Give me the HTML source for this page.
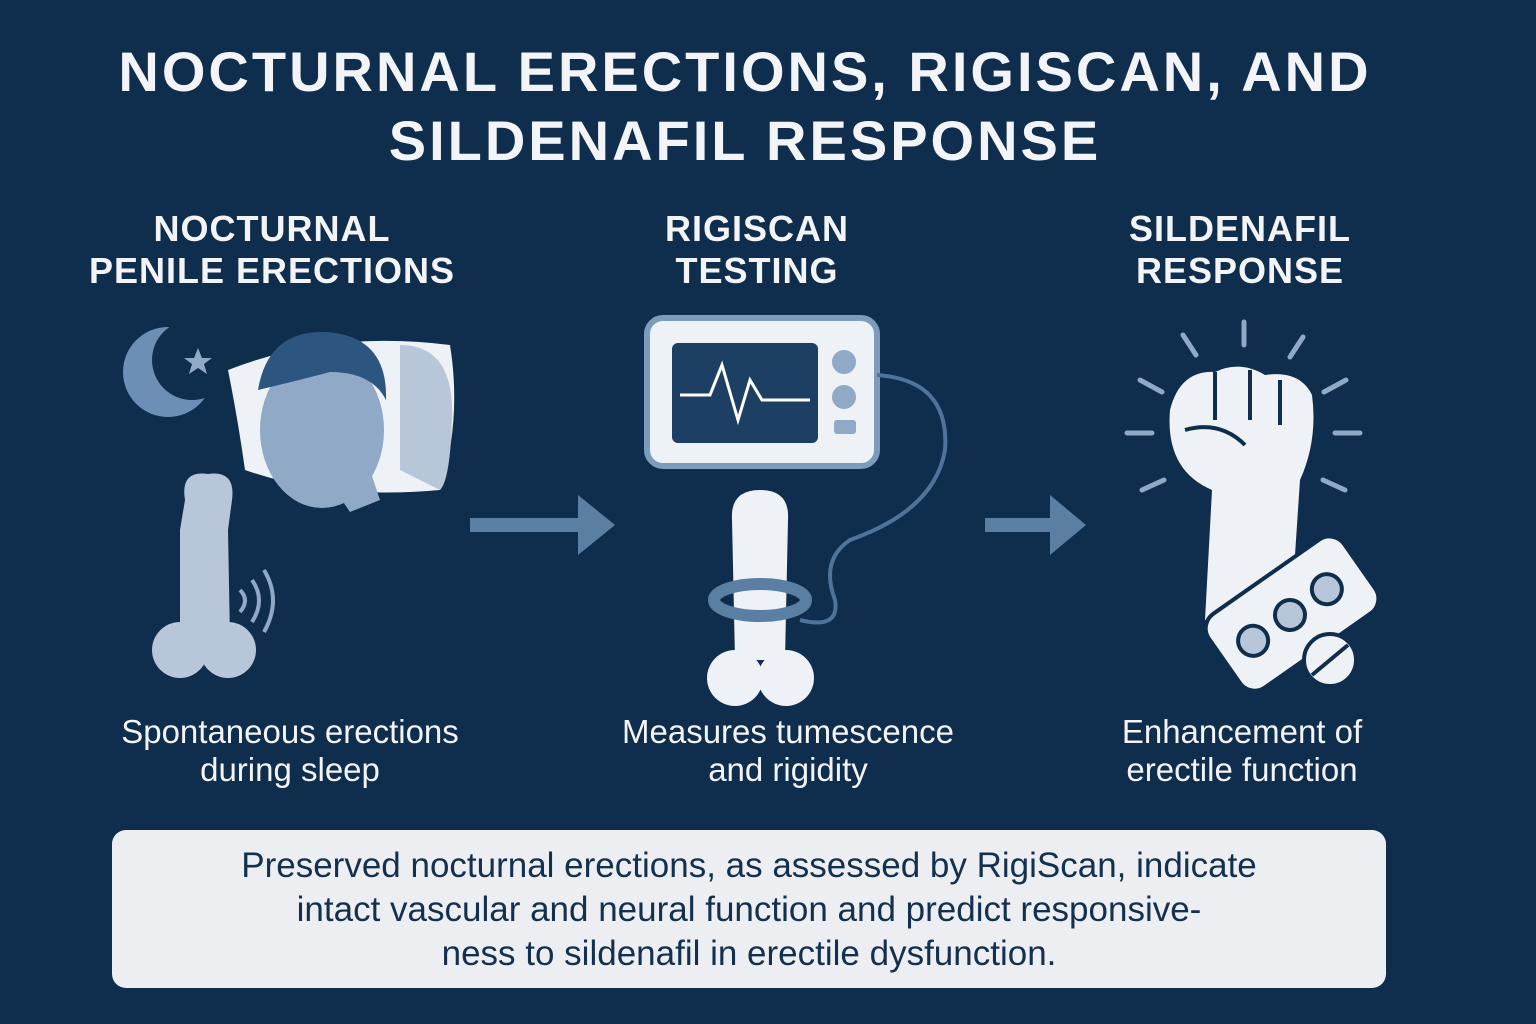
<!DOCTYPE html>
<html><head><meta charset="utf-8"><style>
body{margin:0;width:1536px;height:1024px;background:#0f2d4c;overflow:hidden;font-family:"Liberation Sans","DejaVu Sans",sans-serif;position:relative;color:#f2f4f7}
.t{position:absolute;left:0;width:1490px;text-align:center;font-weight:bold;font-size:56px;letter-spacing:3px;line-height:70px}
.h{position:absolute;text-align:center;font-weight:bold;font-size:36px;line-height:42px;letter-spacing:1px;width:440px}
.c{position:absolute;text-align:center;font-size:33px;line-height:38px;width:460px}
.box{position:absolute;left:112px;top:830px;width:1274px;height:158px;background:#eceef2;border-radius:14px;color:#14304f;font-size:35px;line-height:44px;text-align:center;box-sizing:border-box;padding-top:14px}
</style></head><body>
<div class="t" style="top:37px">NOCTURNAL ERECTIONS, RIGISCAN, AND</div>
<div class="t" style="top:106px">SILDENAFIL RESPONSE</div>
<div class="h" style="left:52px;top:208px">NOCTURNAL<br>PENILE ERECTIONS</div>
<div class="h" style="left:537px;top:208px">RIGISCAN<br>TESTING</div>
<div class="h" style="left:1020px;top:208px">SILDENAFIL<br>RESPONSE</div>
<svg width="1536" height="1024" style="position:absolute;left:0;top:0">
<circle cx="168" cy="372" r="45" fill="#6d8fb5"/><circle cx="192" cy="360" r="40" fill="#0f2d4c"/>
<polygon points="198,348 202,358 212,358 204,364 207,374 198,368 189,374 192,364 184,358 194,358" fill="#8fa9c6"/>
<path d="M228 370 Q330 330 450 345 Q462 420 440 490 Q330 500 245 470 Q238 420 228 370Z" fill="#eef1f5"/>
<path d="M400 345 Q455 345 452 420 Q450 480 440 490 L400 470Z" fill="#b7c7d9"/>
<ellipse cx="322" cy="430" rx="62" ry="78" fill="#8fa9c6"/>
<path d="M258 390 Q268 330 326 332 Q388 336 386 400 Q372 372 330 372 Q300 380 258 390Z" fill="#2c5680"/>
<path d="M335 490 L350 512 L380 500 L370 470Z" fill="#8fa9c6"/>
<path d="M185 500 Q180 470 208 474 Q236 470 232 500 L228 530 L230 640 L180 640 L180 530Z" fill="#b7c7d9"/>
<circle cx="180" cy="650" r="28" fill="#b7c7d9"/><circle cx="228" cy="650" r="28" fill="#b7c7d9"/>
<path d="M240 590 Q250 600 240 612 M252 580 Q266 600 252 622 M264 570 Q282 600 264 632" stroke="#8fa9c6" stroke-width="4" fill="none"/>
<path d="M470 525 H585" stroke="#5b7fa3" stroke-width="14"/><polygon points="578,495 615,525 578,555" fill="#5b7fa3"/>
<path d="M985 525 H1055" stroke="#5b7fa3" stroke-width="14"/><polygon points="1050,495 1086,525 1050,555" fill="#5b7fa3"/>
<rect x="647" y="318" width="230" height="148" rx="16" fill="#eef1f5" stroke="#7c9bbd" stroke-width="6"/>
<rect x="672" y="343" width="146" height="100" rx="6" fill="#1d3f63"/>
<path d="M680 395 H710 L722 365 L738 420 L750 380 L762 400 H810" stroke="#fff" stroke-width="3" fill="none"/>
<circle cx="844" cy="362" r="12" fill="#8fa9c6"/><circle cx="844" cy="397" r="12" fill="#8fa9c6"/><rect x="834" y="420" width="22" height="14" rx="3" fill="#8fa9c6"/>
<path d="M877 375 Q950 380 945 450 Q935 510 850 540 Q820 560 835 600 Q840 630 800 620" stroke="#4f7399" stroke-width="4" fill="none"/>
<path d="M732 520 Q730 490 760 490 Q790 490 788 520 L785 660 L735 660Z" fill="#eef1f5"/>
<circle cx="735" cy="678" r="28" fill="#eef1f5"/><circle cx="786" cy="678" r="28" fill="#eef1f5"/>
<ellipse cx="760" cy="600" rx="46" ry="16" fill="none" stroke="#5b7fa3" stroke-width="12"/>
<g stroke="#8fa9c6" stroke-width="5" stroke-linecap="round">
<path d="M1244 322V345M1183 335L1196 355M1303 337L1290 357M1140 380L1162 392M1346 380L1324 392M1127 433H1152M1335 433H1360M1142 490L1164 480M1345 490L1323 480"/></g>
<path d="M1170 410 Q1180 370 1215 372 Q1240 360 1265 375 Q1300 370 1312 395 Q1318 440 1300 480 L1292 600 L1205 620 L1212 490 Q1165 470 1170 410Z" fill="#eef1f5"/>
<path d="M1215 372 L1215 420 M1250 370 L1250 420 M1280 380 L1280 425 M1185 430 Q1220 420 1245 445" stroke="#0f2d4c" stroke-width="4" fill="none"/>
<g transform="rotate(-35 1290 615)"><rect x="1210" y="570" width="165" height="90" rx="18" fill="#eef1f5" stroke="#0f2d4c" stroke-width="4"/>
<circle cx="1245" cy="615" r="15" fill="#b7c7d9" stroke="#0f2d4c" stroke-width="4"/><circle cx="1290" cy="615" r="15" fill="#b7c7d9" stroke="#0f2d4c" stroke-width="4"/><circle cx="1335" cy="615" r="15" fill="#b7c7d9" stroke="#0f2d4c" stroke-width="4"/></g>
<circle cx="1330" cy="660" r="26" fill="#eef1f5" stroke="#0f2d4c" stroke-width="4"/><path d="M1312 675 L1348 645" stroke="#0f2d4c" stroke-width="4"/>
</svg>
<div class="c" style="left:60px;top:713px">Spontaneous erections<br>during sleep</div>
<div class="c" style="left:558px;top:713px">Measures tumescence<br>and rigidity</div>
<div class="c" style="left:1012px;top:713px">Enhancement of<br>erectile function</div>
<div class="box">Preserved nocturnal erections, as assessed by RigiScan, indicate<br>intact vascular and neural function and predict responsive-<br>ness to sildenafil in erectile dysfunction.</div>
</body></html>
